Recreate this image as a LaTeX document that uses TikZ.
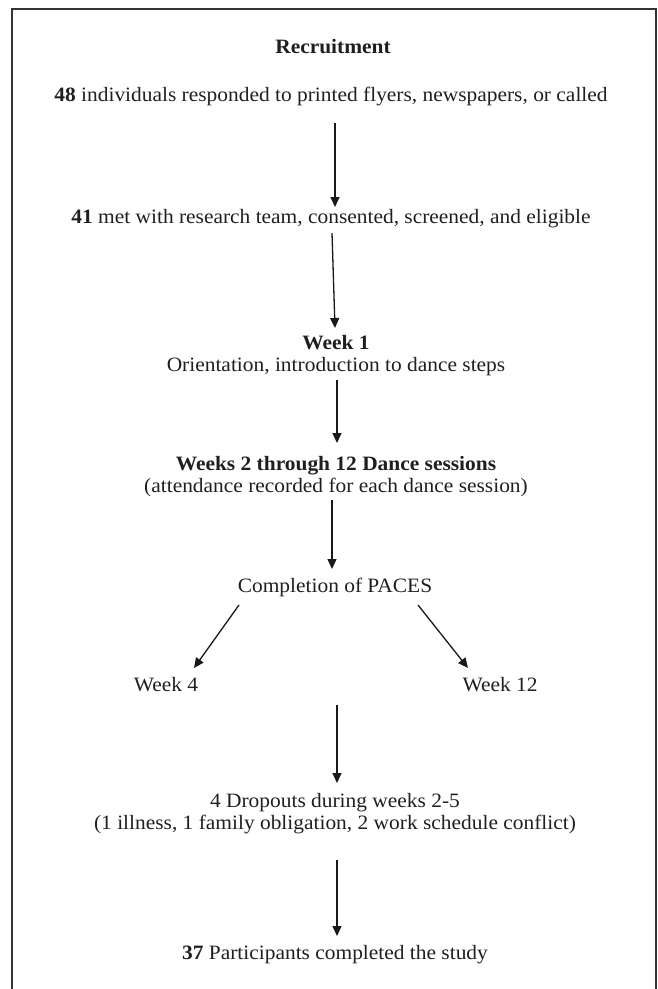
\documentclass[tikz,border=0pt]{standalone}
\usepackage{fontspec}
\setmainfont{Liberation Serif}[FakeStretch=1.05]
\usetikzlibrary{arrows.meta,calc}
\begin{document}
\begin{tikzpicture}[x=1pt,y=-1pt,
  txt/.style={inner sep=0pt, align=center, text=black!88, font=\fontsize{20.4}{22}\selectfont},
  arr/.style={line width=1.3pt, draw=black!90, -{Triangle[length=10pt,width=9pt]}}]
\useasboundingbox (0,0) rectangle (658,989);
\draw[line width=1.4pt, black!80] (12,989) -- (12,9) -- (656,9) -- (656,989);
\node[txt] (rec) at (333,47) {\textbf{Recruitment}};
\node[txt] (n48) at (331,97) {\textbf{48} individuals responded to printed flyers, newspapers, or called};
\node[txt] (n41) at (331,219) {\textbf{41} met with research team, consented, screened, and eligible};
\node[txt] (w1) at (336,355.5) {\textbf{Week 1}\\Orientation, introduction to dance steps};
\node[txt] (w2) at (336,476.5) {\textbf{Weeks 2 through 12 Dance sessions}\\(attendance recorded for each dance session)};
\node[txt] (paces) at (335,587) {Completion of PACES};
\node[txt] (wk4) at (166,685) {Week 4};
\node[txt] (wk12) at (500,685) {Week 12};
\coordinate (split) at (337,705);
\node[txt] (drop) at (335,814) {4 Dropouts during weeks 2-5\\(1 illness, 1 family obligation, 2 work schedule conflict)};
\node[txt] (n37) at (335,955) {\textbf{37} Participants completed the study};
\draw[arr] ($(n48.center)+(4,26)$) -- ($(n41.center)+(4,-12)$);
\draw[arr] ($(n41.center)+(1,14)$) -- ($(w1.center)+(-1,-27.5)$);
\draw[arr] ($(w1.center)+(1,24.5)$) -- ($(w2.center)+(1,-33.5)$);
\draw[arr] ($(w2.center)+(-4,23.5)$) -- ($(paces.center)+(-3,-18)$);
\draw[arr] ($(paces.center)+(-96,18)$) -- ($(wk4.center)+(28,-17)$);
\draw[arr] ($(paces.center)+(83,18)$) -- ($(wk12.center)+(-32,-17)$);
\draw[arr] (split) -- ($(drop.center)+(2,-31)$);
\draw[arr] ($(drop.center)+(2,46)$) -- ($(n37.center)+(2,-19)$);
\end{tikzpicture}
\end{document}
